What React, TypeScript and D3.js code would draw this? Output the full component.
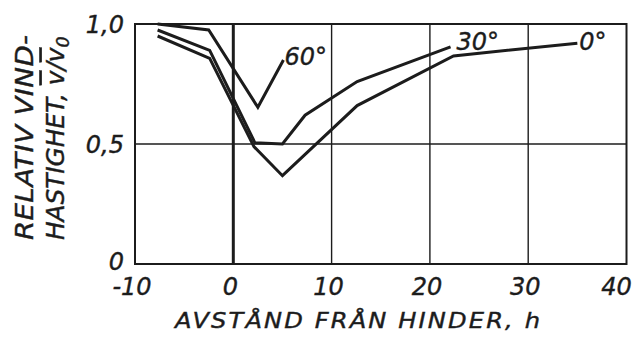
import React from "react";
import { scaleLinear, line } from "d3";

// avstånd från hinder (h) och relativ vindhastighet för olika vinklar
const angles = ["0°", "30°", "60°"];
const dist0 = [-7.7, -2.4, 2.1, 5, 12.6, 22.4, 35];
const speed0 = [0.95, 0.857, 0.489, 0.368, 0.66, 0.867, 0.92];
const dist30 = [-7.7, -2.4, 2.2, 5, 7.3, 12.6, 22.1];
const speed30 = [0.975, 0.89, 0.505, 0.5, 0.62, 0.76, 0.905];
const dist60 = [-7.7, -2.5, 2.5, 5.1];
const speed60 = [1.0, 0.975, 0.653, 0.85];

const xTicks = [-10, 0, 10, 20, 30, 40];
const yTicks = [0, 0.5, 1];
const yTickLabels = ["0", "0,5", "1,0"];

const W = 634;
const H = 342;
const ink = "#1c1c1c";
const font = "'DejaVu Sans', sans-serif";

const App = () => {
  const x = scaleLinear().domain([-10, 40]).range([135, 626.5]);
  const y = scaleLinear().domain([0, 1]).range([264, 24]);

  const series = [
    { name: angles[0], xs: dist0, ys: speed0, dx: 2, dy: 7 },
    { name: angles[1], xs: dist30, ys: speed30, dx: 6, dy: 3 },
    { name: angles[2], xs: dist60, ys: speed60, dx: 1, dy: 5 },
  ];

  const lineGen = line<[number, number]>()
    .x((d) => x(d[0]))
    .y((d) => y(d[1]));

  const txt = {
    fontFamily: font,
    fontStyle: "italic",
    fill: ink,
    stroke: ink,
    strokeWidth: 0.4,
  } as const;

  // titlarna är bredare i originalet, sträck ut glyferna lite
  const stretch = 1.15;

  return (
    <svg
      width={W}
      height={H}
      style={{ position: "absolute", left: 0, top: 0, background: "#fff" }}
    >
      {/* rutnät */}
      {xTicks.slice(1, -1).map((t) => (
        <line
          key={"gx" + t}
          x1={x(t)}
          x2={x(t)}
          y1={y(0)}
          y2={y(1)}
          stroke={ink}
          strokeWidth={t === 0 ? 3 : 1.4}
        />
      ))}
      <line x1={x(-10)} x2={x(40)} y1={y(0.5)} y2={y(0.5)} stroke={ink} strokeWidth={1.4} />
      <rect
        x={x(-10)}
        y={y(1)}
        width={x(40) - x(-10)}
        height={y(0) - y(1)}
        fill="none"
        stroke={ink}
        strokeWidth={2}
      />

      {/* kurvor */}
      {series.map((s) => {
        const pts = s.xs.map((d, i) => [d, s.ys[i]] as [number, number]);
        const last = pts[pts.length - 1];
        return (
          <g key={s.name}>
            <path
              d={lineGen(pts) || ""}
              fill="none"
              stroke={ink}
              strokeWidth={3}
              strokeLinejoin="miter"
            />
            <text x={x(last[0]) + s.dx} y={y(last[1]) + s.dy} fontSize={24} {...txt}>
              {s.name}
            </text>
          </g>
        );
      })}

      {/* axlar */}
      {xTicks.map((t) => (
        <text
          key={"xt" + t}
          x={x(t) - (t === 40 ? 10 : 3)}
          y={295}
          textAnchor="middle"
          fontSize={24}
          {...txt}
        >
          {t}
        </text>
      ))}
      {yTicks.map((t, i) => (
        <text
          key={"yt" + t}
          x={124}
          y={y(t) + 9 + (t === 0 ? -3 : 0)}
          textAnchor="end"
          fontSize={24}
          {...txt}
        >
          {yTickLabels[i]}
        </text>
      ))}

      <text
        transform={`translate(175,328) scale(${stretch},1)`}
        textLength={365 / stretch}
        lengthAdjust="spacing"
        fontSize={21}
        {...txt}
      >
        AVSTÅND FRÅN HINDER, h
      </text>

      <text
        transform={`translate(33,240) rotate(-90) scale(${stretch},1)`}
        textLength={205 / stretch}
        lengthAdjust="spacing"
        fontSize={24}
        {...txt}
      >
        RELATIV VIND-
      </text>
      <text
        transform={`translate(64,240) rotate(-90) scale(1.03,1)`}
        fontSize={24}
        {...txt}
      >
        HASTIGHET,{" "}
        <tspan textDecoration="overline">v</tspan>/
        <tspan textDecoration="overline">v</tspan>
        <tspan fontSize={17} dy={5}>
          0
        </tspan>
      </text>
    </svg>
  );
};

export default App;
